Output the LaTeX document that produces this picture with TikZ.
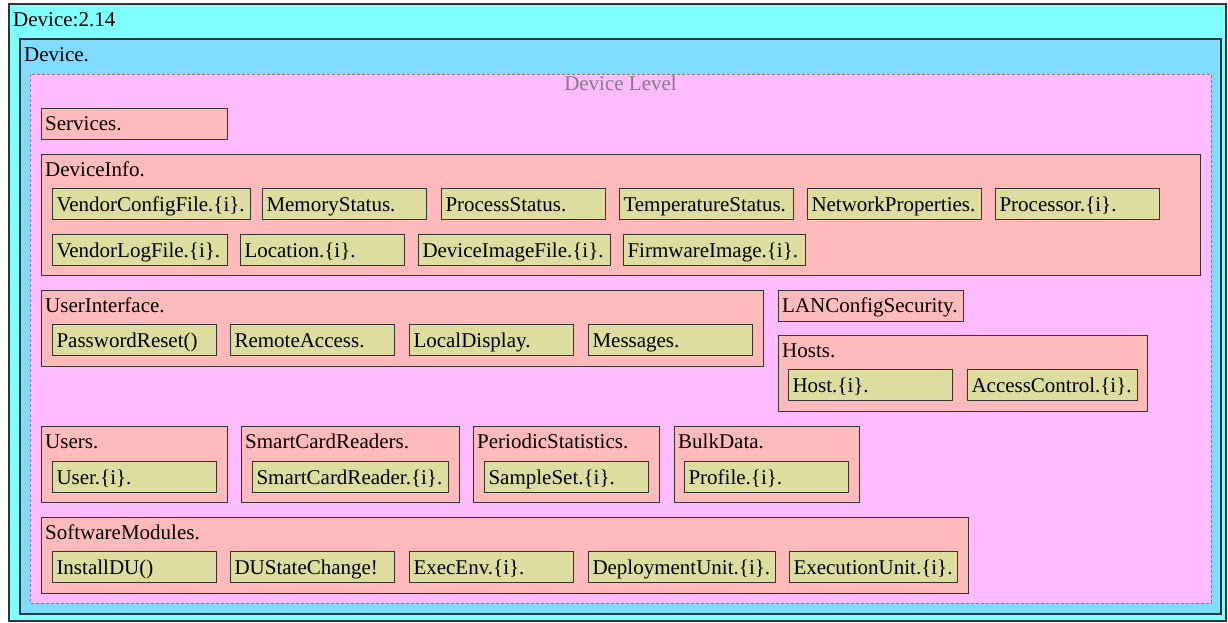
\documentclass[tikz,border=0pt]{standalone}
\usepackage{fontspec}
\setmainfont{Liberation Serif}
\usepackage{tikz}
\definecolor{outercyan}{RGB}{128,255,255}
\definecolor{innerblue}{RGB}{127,219,255}
\definecolor{levelpink}{RGB}{255,187,255}
\definecolor{grppink}{RGB}{255,187,187}
\definecolor{itemkhaki}{RGB}{221,221,160}
\definecolor{edgegray}{RGB}{51,51,51}
\definecolor{levelgray}{RGB}{128,128,128}

\begin{document}
\begin{tikzpicture}[x=1pt,y=-1pt,
  font=\fontsize{21}{25}\selectfont,
  frame/.style={draw=edgegray,line width=1.2pt},
  grp/.style={draw=edgegray,fill=grppink,line width=1pt},
  lbl/.style={anchor=base west,inner sep=0pt},
  item/.style={draw=edgegray,fill=itemkhaki,line width=1pt,anchor=north west,
    inner xsep=4pt,inner ysep=0pt,minimum height=31pt,
    text height=17pt,text depth=3pt,align=left,text width=156pt}]
\useasboundingbox (0,0) rectangle (1228,622);
% frames
\draw[frame,fill=outercyan] (9,4) rectangle (1226,621);
\node[lbl] (devver) at (13,26) {Device:2.14};
\draw[frame,fill=innerblue] (20,39) rectangle (1221,614);
\node[lbl] (device) at (24,61) {Device.};
\draw[draw=levelgray,fill=levelpink,dash pattern=on 3pt off 2pt] (30,74) rectangle (1211,603);
\node[anchor=base,inner sep=0pt,text=levelgray] (devlevel) at (620.5,90) {Device Level};

% Services
\draw[grp] (41,108) rectangle (227,139);
\node[lbl] (services) at (45,130.5) {Services.};

% DeviceInfo
\draw[grp] (41,154) rectangle (1200,275);
\node[lbl] (devinfo) at (45,176) {DeviceInfo.};
\node[item,text width=190pt] (vcfile) at (52,188) {VendorConfigFile.\{i\}.};
\node[item] (memstat) at (262,188) {MemoryStatus.};
\node[item] (procstat) at (441,188) {ProcessStatus.};
\node[item,text width=166pt] (tempstat) at (619,188) {TemperatureStatus.};
\node[item,text width=166pt] (netprop) at (807,188) {NetworkProperties.};
\node[item] (proc) at (995,188) {Processor.\{i\}.};
\node[item,text width=167pt] (vlfile) at (52,234) {VendorLogFile.\{i\}.};
\node[item] (loc) at (240,234) {Location.\{i\}.};
\node[item,text width=184pt] (imgfile) at (418,234) {DeviceImageFile.\{i\}.};
\node[item,text width=174pt] (fwimg) at (623,234) {FirmwareImage.\{i\}.};

% UserInterface
\draw[grp] (41,290) rectangle (763,366);
\node[lbl] (userif) at (45,312) {UserInterface.};
\node[item] (pwreset) at (52,324) {PasswordReset()};
\node[item] (remote) at (230,324) {RemoteAccess.};
\node[item] (localdisp) at (409,324) {LocalDisplay.};
\node[item] (msgs) at (588,324) {Messages.};

% LAN / Hosts
\draw[grp] (778,290) rectangle (963,321);
\node[lbl] (lansec) at (782,312) {LANConfigSecurity.};
\draw[grp] (778,335) rectangle (1147,411);
\node[lbl] (hosts) at (782,357) {Hosts.};
\node[item] (host) at (788,369) {Host.\{i\}.};
\node[item,text width=162pt] (accctl) at (967,369) {AccessControl.\{i\}.};

% Users, SmartCardReaders, PeriodicStatistics, BulkData
\draw[grp] (41,426) rectangle (227,502);
\node[lbl] (users) at (45,448) {Users.};
\node[item] (user) at (52,461) {User.\{i\}.};
\draw[grp] (241,426) rectangle (459,502);
\node[lbl] (screaders) at (245,448) {SmartCardReaders.};
\node[item,text width=188pt] (screader) at (252,461) {SmartCardReader.\{i\}.};
\draw[grp] (473,426) rectangle (659,502);
\node[lbl] (perstats) at (477,448) {PeriodicStatistics.};
\node[item] (sampleset) at (484,461) {SampleSet.\{i\}.};
\draw[grp] (674,426) rectangle (859,502);
\node[lbl] (bulkdata) at (678,448) {BulkData.};
\node[item] (profile) at (684,461) {Profile.\{i\}.};

% SoftwareModules
\draw[grp] (41,517) rectangle (968,593);
\node[lbl] (swmods) at (45,539) {SoftwareModules.};
\node[item] (installdu) at (52,551) {InstallDU()};
\node[item] (dustate) at (230,551) {DUStateChange!};
\node[item] (execenv) at (409,551) {ExecEnv.\{i\}.};
\node[item,text width=179pt] (depunit) at (588,551) {DeploymentUnit.\{i\}.};
\node[item,text width=160pt] (execunit) at (789,551) {ExecutionUnit.\{i\}.};
\end{tikzpicture}
\end{document}
